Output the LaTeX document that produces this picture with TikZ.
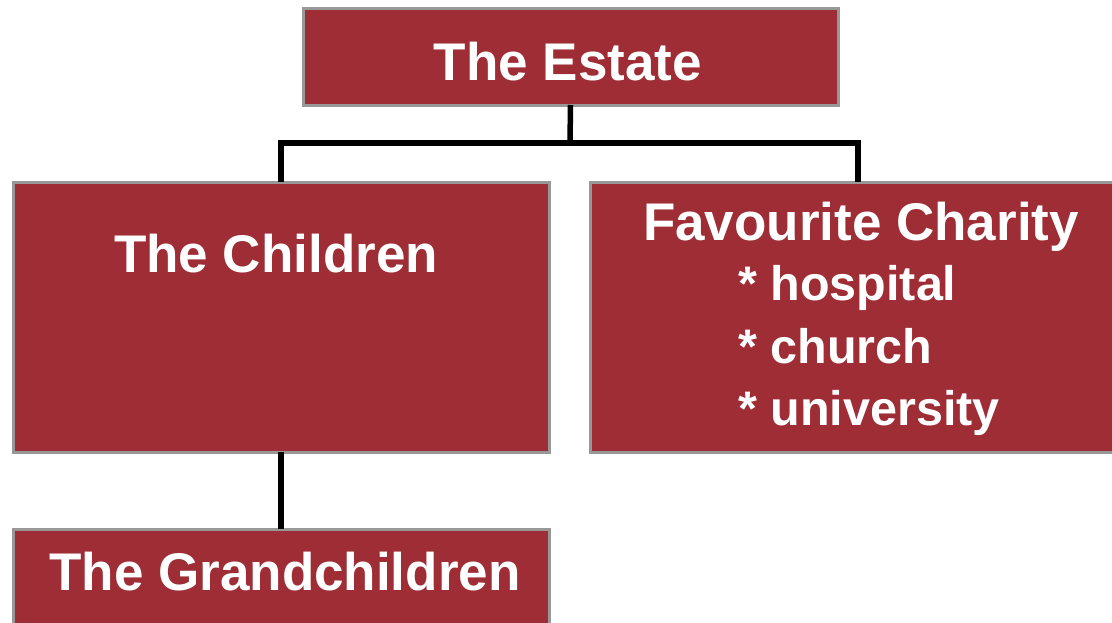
\documentclass[tikz,border=0pt]{standalone}
\usepackage{fontspec}
\setmainfont{Liberation Sans}
\definecolor{boxred}{HTML}{9E2D36}
\definecolor{boxgray}{HTML}{989898}
\tikzset{
  box/.style={draw=boxgray, line width=3pt, fill=boxred, inner sep=0pt, outer sep=0pt},
  lbl/.style={text=white, font=\fontsize{53}{60}\selectfont\bfseries, inner sep=0pt, anchor=base},
  sublbl/.style={lbl, font=\fontsize{48.5}{56}\selectfont\bfseries, anchor=base west},
  conn/.style={line width=5.5pt, draw=black}
}
\begin{document}
\begin{tikzpicture}[x=1pt,y=-1pt]
\clip (0,0) rectangle (1112,622);
\fill[white] (0,0) rectangle (1112,622);
% boxes
\node[box, minimum width=535pt, minimum height=97pt] (estate) at (570.5,56.5) {};
\node[box, minimum width=536pt, minimum height=270pt] (children) at (281,317) {};
\node[box, minimum width=540pt, minimum height=270pt] (charity) at (860,317) {};
\node[box, minimum width=536pt, minimum height=120pt] (grand) at (281,589) {};
% connectors
\coordinate (mid) at (570,143);
\coordinate (cn) at (281,182);
\coordinate (chn) at (858,182);
\draw[conn] (estate.south) -- (mid);
\draw[conn] (cn) |- (mid) -| (chn);
\draw[conn] (children.south) -- (grand.north);
% labels
\node[lbl] (tEstate) at (568,80) {The Estate};
\node[lbl] (tChildren) at (276,272) {The Children};
\node[lbl] (tCharity) at (861,240) {Favourite Charity};
\node[sublbl] (t1) at (738,300) {* hospital};
\node[sublbl] (t2) at (738,363) {* church};
\node[sublbl] (t3) at (738,425) {* university};
\node[lbl] (tGrand) at (285,590) {The Grandchildren};
\end{tikzpicture}
\end{document}
